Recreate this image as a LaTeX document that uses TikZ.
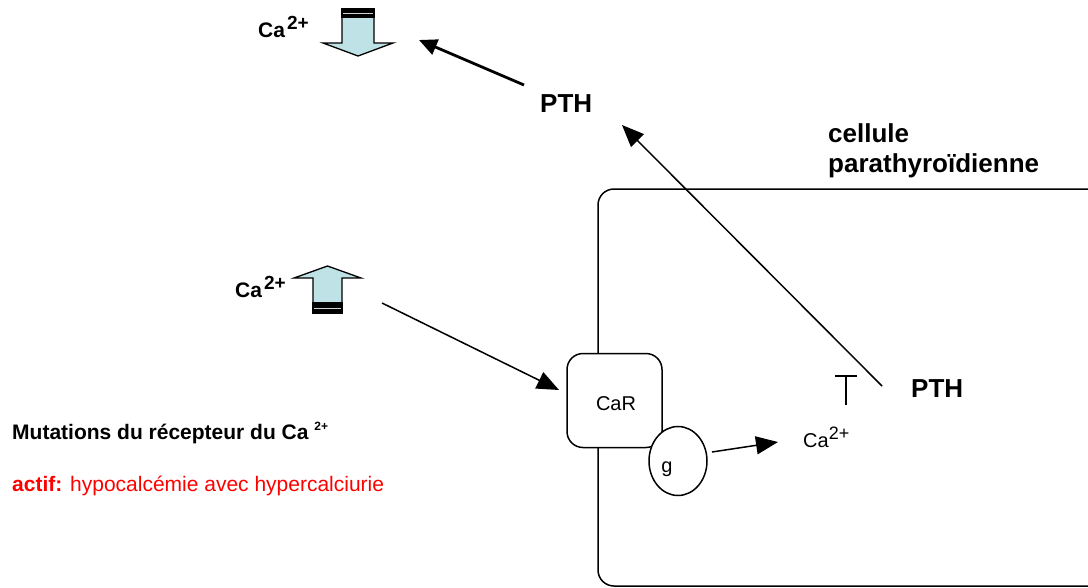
\documentclass[tikz,border=0pt]{standalone}
\usepackage{fontspec}
\setmainfont{Liberation Sans}
\usetikzlibrary{arrows.meta,shapes.geometric}
\definecolor{ionblue}{RGB}{190,226,230}
\tikzset{
  big/.style={font=\fontsize{26}{30}\selectfont\bfseries, inner sep=0pt, anchor=base west},
  lbl/.style={font=\fontsize{20}{24}\selectfont, inner sep=0pt},
  ion/.style={font=\fontsize{21}{24}\selectfont\bfseries, inner sep=0pt, anchor=base west},
  conn/.style={line width=1.5pt, -{Triangle[length=22pt,width=18pt]}},
  thickconn/.style={line width=2.8pt, -{Triangle[length=18pt,width=16pt]}},
  blockarrow/.style={fill=ionblue, draw=black, line width=1.3pt, line join=miter},
  band/.style={fill=black, draw=black, line width=1.3pt},
  bandline/.style={draw=gray!35, line width=0.9pt},
  membrane/.style={line width=1.5pt},
}
\newcommand{\supbold}[1]{\hspace{2pt}\raisebox{8pt}{\fontsize{19}{19}\selectfont #1}}

\begin{document}
\begin{tikzpicture}[x=1pt,y=-1pt]
\useasboundingbox (0,0) rectangle (1088,587);

% cell outline, open to the right
\draw[membrane, rounded corners=16pt] (1092,189) -- (598,189) -- (598,586) -- (1092,586);

% receptor and G protein
\node[draw, membrane, fill=white, rounded corners=16pt, minimum width=95pt, minimum height=94pt, inner sep=0pt] (car) at (614.5,400.5) {};
\node[lbl] (cartext) at (616,404) {CaR};
\node[draw, ellipse, membrane, fill=white, minimum width=58pt, minimum height=69pt, inner sep=0pt] (g) at (678,461) {};
\node[lbl, anchor=base] (gtext) at (667,472.5) {g};

% intracellular calcium
\node[lbl, anchor=base west] (caint) at (803,447) {Ca\raisebox{8pt}{\fontsize{18}{18}\selectfont 2+}};

% PTH labels
\node[big] (pthtop) at (540,112) {PTH};
\node[big] (pthcell) at (911,397) {PTH};
\node[big] (cell1) at (828,142) {cellule};
\node[big] (cell2) at (828,172) {parathyroïdienne};

% extracellular calcium labels
\node[ion] (catop) at (258,37) {Ca\supbold{2+}};
\node[ion] (camid) at (235,297) {Ca\supbold{2+}};

% legend
\node[ion] (mut) at (12,439) {Mutations du récepteur du Ca \raisebox{9pt}{\fontsize{12}{12}\selectfont 2+}};
\node[ion, text=red] (actif) at (12,491) {actif: \mdseries hypocalcémie avec hypercalciurie};

% falling calcium (down block arrow)
\draw[blockarrow] (342,17) -- (374,17) -- (374,43) -- (393,43) -- (358,56) -- (323,43) -- (342,43) -- cycle;
\draw[band] (342,9) rectangle (374,17);
\draw[bandline] (343,13) -- (373,13);

% rising calcium (up block arrow)
\draw[blockarrow] (313,303) -- (313,278) -- (294,278) -- (327.5,266) -- (361,278) -- (342,278) -- (342,303) -- cycle;
\draw[band] (313,303) rectangle (342,313);
\draw[bandline] (314,308) -- (341,308);

% connector end points
\coordinate (a1s) at (524,85);
\coordinate (a1e) at (419,40);
\coordinate (a2s) at (882,386);
\coordinate (a2e) at (622,125);
\coordinate (a3s) at (382,303);
\coordinate (a3e) at (559,390);
\coordinate (a4s) at (712,452);
\coordinate (a4e) at (778,442);
\coordinate (inhs) at (846,405);
\coordinate (inhe) at (846,375);

% connectors
\draw[thickconn] (a1s) -- (a1e);
\draw[conn] (a2s) -- (a2e);
\draw[conn] (a3s) -- (a3e);
\draw[conn] (a4s) -- (a4e);
\draw[line width=1.5pt, -{Bar[width=22pt]}] (inhs) -- (inhe);
\end{tikzpicture}
\end{document}
